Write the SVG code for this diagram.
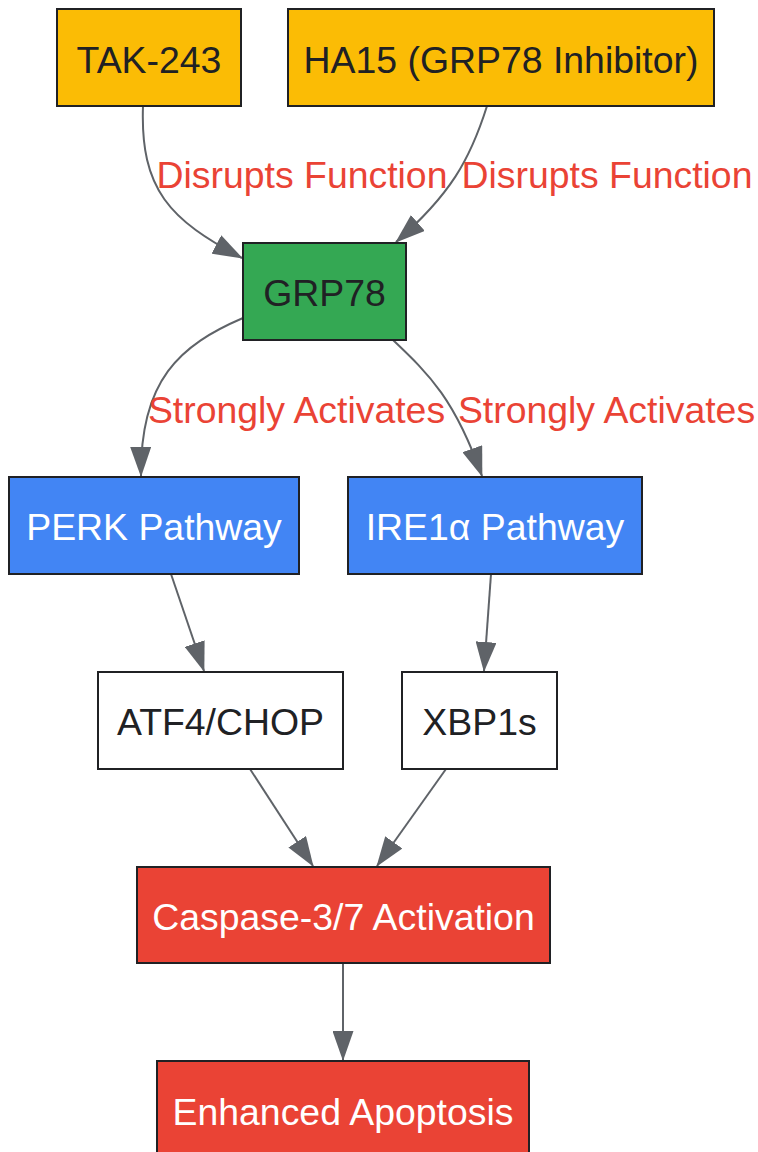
<svg xmlns="http://www.w3.org/2000/svg" width="758" height="1152" viewBox="0 0 758 1152">
  <style>
    .box { stroke: #202124; stroke-width: 2; }
    .yellow { fill: #FBBC05; }
    .green { fill: #34A853; }
    .blue { fill: #4285F4; }
    .white { fill: #FFFFFF; }
    .red { fill: #EA4335; }
    text { font-family: "Liberation Sans", Arial, sans-serif; font-size: 37.4px; text-anchor: middle; }
    .dark { fill: #202124; }
    .light { fill: #FFFFFF; }
    .elabel { fill: #EA4335; }
    .edge { fill: none; stroke: #5F6368; stroke-width: 2; }
  </style>
  <defs>
    <marker id="arrow" viewBox="0 0 30 21" refX="29" refY="10.5" markerWidth="30" markerHeight="21" markerUnits="userSpaceOnUse" orient="auto">
      <path d="M0,0 L30,10.5 L0,21 z" fill="#5F6368"/>
    </marker>
  </defs>
  <rect width="758" height="1152" fill="#FFFFFF"/>

  <g id="connectors">
    <path class="edge" d="M143,106 C140,190 170,220 242,258" marker-end="url(#arrow)"/>
    <path class="edge" d="M487,106 C470,160 450,195 396,242" marker-end="url(#arrow)"/>
    <path class="edge" d="M243,318 C180,345 140,380 141,476" marker-end="url(#arrow)"/>
    <path class="edge" d="M393,340 C430,375 455,400 482,476" marker-end="url(#arrow)"/>
    <path class="edge" d="M171,574 L204,671" marker-end="url(#arrow)"/>
    <path class="edge" d="M491,574 L484,671" marker-end="url(#arrow)"/>
    <path class="edge" d="M250,769 L313,866" marker-end="url(#arrow)"/>
    <path class="edge" d="M446,769 L377,866" marker-end="url(#arrow)"/>
    <path class="edge" d="M343,963 L343,1060" marker-end="url(#arrow)"/>
    <text class="elabel" x="302" y="188">Disrupts Function</text>
    <text class="elabel" x="607" y="188">Disrupts Function</text>
    <text class="elabel" x="296.5" y="423">Strongly Activates</text>
    <text class="elabel" x="606.5" y="423">Strongly Activates</text>
  </g>

  <g id="tak243">
    <rect class="box yellow" x="57" y="9" width="184" height="97"/>
    <text class="dark" x="149" y="73">TAK-243</text>
  </g>
  <g id="ha15">
    <rect class="box yellow" x="288" y="9" width="426" height="97"/>
    <text class="dark" x="501" y="73">HA15 (GRP78 Inhibitor)</text>
  </g>
  <g id="grp78">
    <rect class="box green" x="243" y="243" width="163" height="97"/>
    <text class="dark" x="324.5" y="306">GRP78</text>
  </g>
  <g id="perk">
    <rect class="box blue" x="9" y="477" width="290" height="97"/>
    <text class="light" x="154" y="540">PERK Pathway</text>
  </g>
  <g id="ire1a">
    <rect class="box blue" x="348" y="477" width="294" height="97"/>
    <text class="light" x="495" y="540">IRE1α Pathway</text>
  </g>
  <g id="atf4chop">
    <rect class="box white" x="98" y="672" width="245" height="97"/>
    <text class="dark" x="220.5" y="735">ATF4/CHOP</text>
  </g>
  <g id="xbp1s">
    <rect class="box white" x="402" y="672" width="155" height="97"/>
    <text class="dark" x="479.5" y="735">XBP1s</text>
  </g>
  <g id="caspase">
    <rect class="box red" x="137" y="867" width="413" height="96"/>
    <text class="light" x="343.5" y="930">Caspase-3/7 Activation</text>
  </g>
  <g id="apoptosis">
    <rect class="box red" x="157" y="1061" width="372" height="97"/>
    <text class="light" x="343" y="1125">Enhanced Apoptosis</text>
  </g>
</svg>
